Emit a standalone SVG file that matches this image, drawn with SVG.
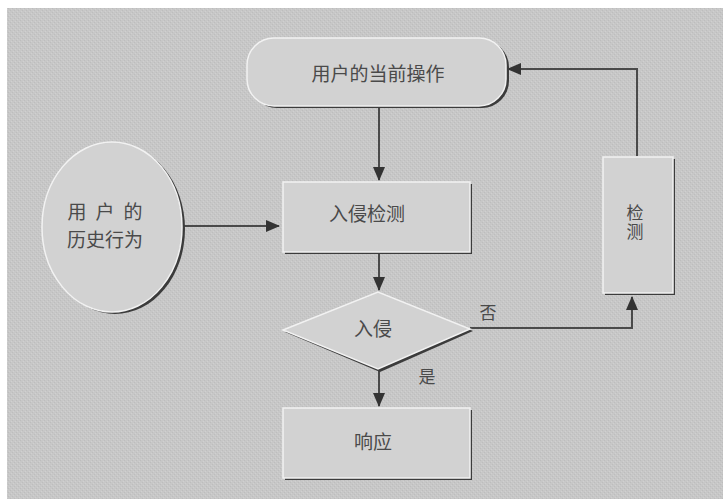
<svg xmlns="http://www.w3.org/2000/svg" width="723" height="504" viewBox="0 0 723 504">
  <defs>
    <marker id="arrow" viewBox="0 0 14 12" refX="13" refY="6" markerWidth="14" markerHeight="12" markerUnits="userSpaceOnUse" orient="auto">
      <path d="M0,0 L14,6 L0,12 Z" fill="#333"/>
    </marker>
    <pattern id="grain" width="4" height="4" patternUnits="userSpaceOnUse">
      <rect width="4" height="4" fill="#c7c7c7"/>
      <rect x="0" y="0" width="1" height="1" fill="#bdbdbd"/>
      <rect x="2" y="2" width="1" height="1" fill="#bdbdbd"/>
      <rect x="1" y="3" width="1" height="1" fill="#d0d0d0"/>
      <rect x="3" y="1" width="1" height="1" fill="#d0d0d0"/>
    </pattern>
  </defs>
  <style>
    .shade { fill: #3c3c3c; }
    .face { fill: #d2d2d2; stroke: #f2f2f2; stroke-width: 1.5; }
    .label { font-family: "Noto Sans CJK SC", "Noto Sans", sans-serif; fill: #4a4a4a; text-anchor: middle; dominant-baseline: central; }
    .vlabel { font-family: "Noto Sans CJK SC", "Noto Sans", sans-serif; fill: #4a4a4a; text-anchor: middle; writing-mode: vertical-rl; letter-spacing: 2px; }
    .edge { fill: none; stroke: #4a4a4a; stroke-width: 2; }
  </style>

  <!-- page and grey panel -->
  <rect x="0" y="0" width="723" height="504" fill="#ffffff"/>
  <rect x="7" y="8" width="716" height="491" fill="url(#grain)"/>

  <!-- connectors -->
  <g id="connectors">
    <line class="edge" x1="379" y1="106" x2="379" y2="180" marker-end="url(#arrow)"/>
    <line class="edge" x1="183" y1="226" x2="279" y2="226" marker-end="url(#arrow)"/>
    <line class="edge" x1="379" y1="254" x2="379" y2="290" marker-end="url(#arrow)"/>
    <line class="edge" x1="379" y1="370" x2="379" y2="406" marker-end="url(#arrow)"/>
    <polyline class="edge" points="470,328 632,328 632,297" marker-end="url(#arrow)"/>
    <polyline class="edge" points="637,156 637,69 508,69" marker-end="url(#arrow)"/>
    <text class="label" x="488" y="311" font-size="17">否</text>
    <text class="label" x="427" y="375" font-size="17">是</text>
  </g>

  <!-- current user action -->
  <g id="node-current">
    <rect class="shade" x="250" y="40" width="259" height="68" rx="27"/>
    <rect class="face" x="247" y="38" width="259" height="68" rx="27"/>
    <text class="label" x="378" y="72" font-size="19">用户的当前操作</text>
  </g>

  <!-- user history -->
  <g id="node-history">
    <ellipse class="shade" cx="115" cy="229" rx="70" ry="85"/>
    <ellipse class="face" cx="112" cy="227" rx="70" ry="85"/>
    <text class="label" x="105" y="210" font-size="19"><tspan x="77">用</tspan><tspan x="105">户</tspan><tspan x="133">的</tspan></text>
    <text class="label" x="105" y="238" font-size="19">历史行为</text>
  </g>

  <!-- intrusion detection -->
  <g id="node-detect">
    <rect class="shade" x="285" y="184" width="187" height="70"/>
    <rect class="face" x="283" y="182" width="187" height="70"/>
    <text class="label" x="367" y="212" font-size="19">入侵检测</text>
  </g>

  <!-- intrusion decision -->
  <g id="node-decision">
    <polygon class="shade" points="285,332 380,294 473,331 380,372"/>
    <polygon class="face" points="283,330 378,292 470,329 378,369"/>
    <text class="label" x="373" y="327" font-size="19">入侵</text>
  </g>

  <!-- response -->
  <g id="node-response">
    <rect class="shade" x="285" y="410" width="187" height="70"/>
    <rect class="face" x="283" y="408" width="187" height="70"/>
    <text class="label" x="373" y="440" font-size="19">响应</text>
  </g>

  <!-- monitoring, label set vertically -->
  <g id="node-monitor">
    <rect class="shade" x="605" y="159" width="70" height="136"/>
    <rect class="face" x="603" y="157" width="70" height="136"/>
    <text class="vlabel" x="635" y="223" font-size="17">检测</text>
  </g>
</svg>
